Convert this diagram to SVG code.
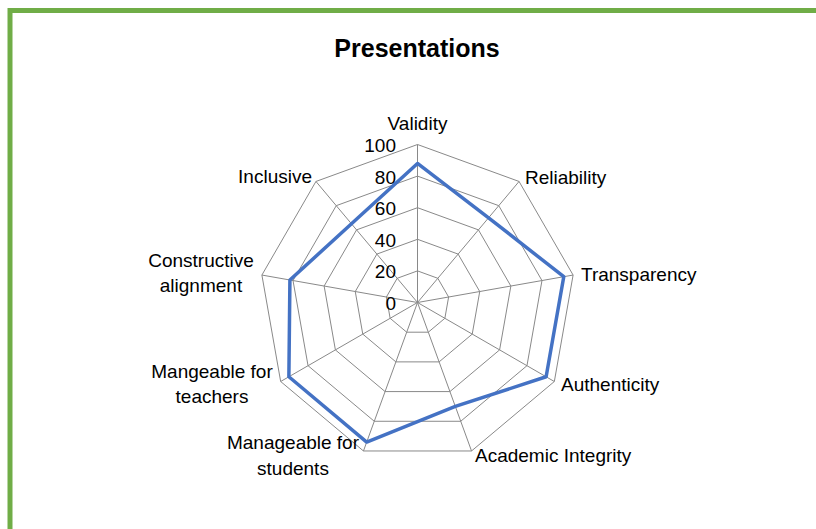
<svg xmlns="http://www.w3.org/2000/svg" width="816" height="529" viewBox="0 0 816 529">
<style>
.bg{fill:#ffffff}
.frame{fill:none;stroke:#70AD47;stroke-width:5}
.grid{fill:none;stroke:#898989;stroke-width:1}
.data{fill:none;stroke:#4472C4;stroke-width:3.5;stroke-linejoin:round}
text{font-family:"Liberation Sans",Arial,sans-serif;font-size:19px;fill:#000}
.title{font-size:25px;font-weight:bold}
.mid{text-anchor:middle}
.end{text-anchor:end}
</style>
<rect class="bg" x="0" y="0" width="816" height="529"/>
<rect class="frame" x="10" y="10.5" width="830" height="540"/>
<text id="title" class="title mid" x="417" y="57">Presentations</text>
<g id="chart" transform="translate(417.5,302.5)">
  <g id="grid">
    <polygon class="grid" points="0,-158 101.56,-121.04 155.60,-27.44 136.83,79.00 54.04,148.47 -54.04,148.47 -136.83,79.00 -155.60,-27.44 -101.56,-121.04"/>
    <polygon class="grid" points="0,-126.4 81.25,-96.83 124.48,-21.95 109.46,63.2 43.23,118.78 -43.23,118.78 -109.46,63.2 -124.48,-21.95 -81.25,-96.83"/>
    <polygon class="grid" points="0,-94.8 60.94,-72.62 93.36,-16.46 82.10,47.4 32.42,89.08 -32.42,89.08 -82.10,47.4 -93.36,-16.46 -60.94,-72.62"/>
    <polygon class="grid" points="0,-63.2 40.62,-48.42 62.24,-10.98 54.73,31.6 21.62,59.39 -21.62,59.39 -54.73,31.6 -62.24,-10.98 -40.62,-48.42"/>
    <polygon class="grid" points="0,-31.6 20.31,-24.21 31.12,-5.49 27.37,15.8 10.81,29.69 -10.81,29.69 -27.37,15.8 -31.12,-5.49 -20.31,-24.21"/>
  </g>
  <g id="connectors">
    <line class="grid" x1="0" y1="0" x2="0" y2="-158"/>
    <line class="grid" x1="0" y1="0" x2="101.56" y2="-121.04"/>
    <line class="grid" x1="0" y1="0" x2="155.60" y2="-27.44"/>
    <line class="grid" x1="0" y1="0" x2="136.83" y2="79.00"/>
    <line class="grid" x1="0" y1="0" x2="54.04" y2="148.47"/>
    <line class="grid" x1="0" y1="0" x2="-54.04" y2="148.47"/>
    <line class="grid" x1="0" y1="0" x2="-136.83" y2="79.00"/>
    <line class="grid" x1="0" y1="0" x2="-155.60" y2="-27.44"/>
    <line class="grid" x1="0" y1="0" x2="-101.56" y2="-121.04"/>
  </g>
  <polygon id="series" class="data" points="0,-139.04 71.09,-84.73 146.26,-25.79 128.62,74.26 37.83,103.93 -50.80,139.56 -128.62,74.26 -127.59,-22.50 -66.01,-78.68"/>
</g>
<g id="ticks">
  <text class="end" x="396" y="152">100</text>
  <text class="end" x="396" y="183.5">80</text>
  <text class="end" x="396" y="215">60</text>
  <text class="end" x="396" y="246.5">40</text>
  <text class="end" x="396" y="278">20</text>
  <text class="end" x="396" y="310">0</text>
</g>
<g id="validity"><text class="mid" x="417.5" y="130">Validity</text></g>
<g id="reliability"><text x="525" y="184">Reliability</text></g>
<g id="transparency"><text x="581" y="281">Transparency</text></g>
<g id="authenticity"><text x="561" y="391">Authenticity</text></g>
<g id="academic-integrity"><text x="475" y="462">Academic Integrity</text></g>
<g id="manageable-students"><text class="mid" x="293" y="449">Manageable for</text><text class="mid" x="293" y="475">students</text></g>
<g id="manageable-teachers"><text class="mid" x="212" y="378">Mangeable for</text><text class="mid" x="212" y="403">teachers</text></g>
<g id="constructive-alignment"><text class="mid" x="201" y="267">Constructive</text><text class="mid" x="201" y="292">alignment</text></g>
<g id="inclusive"><text class="end" x="312" y="183">Inclusive</text></g>
</svg>
